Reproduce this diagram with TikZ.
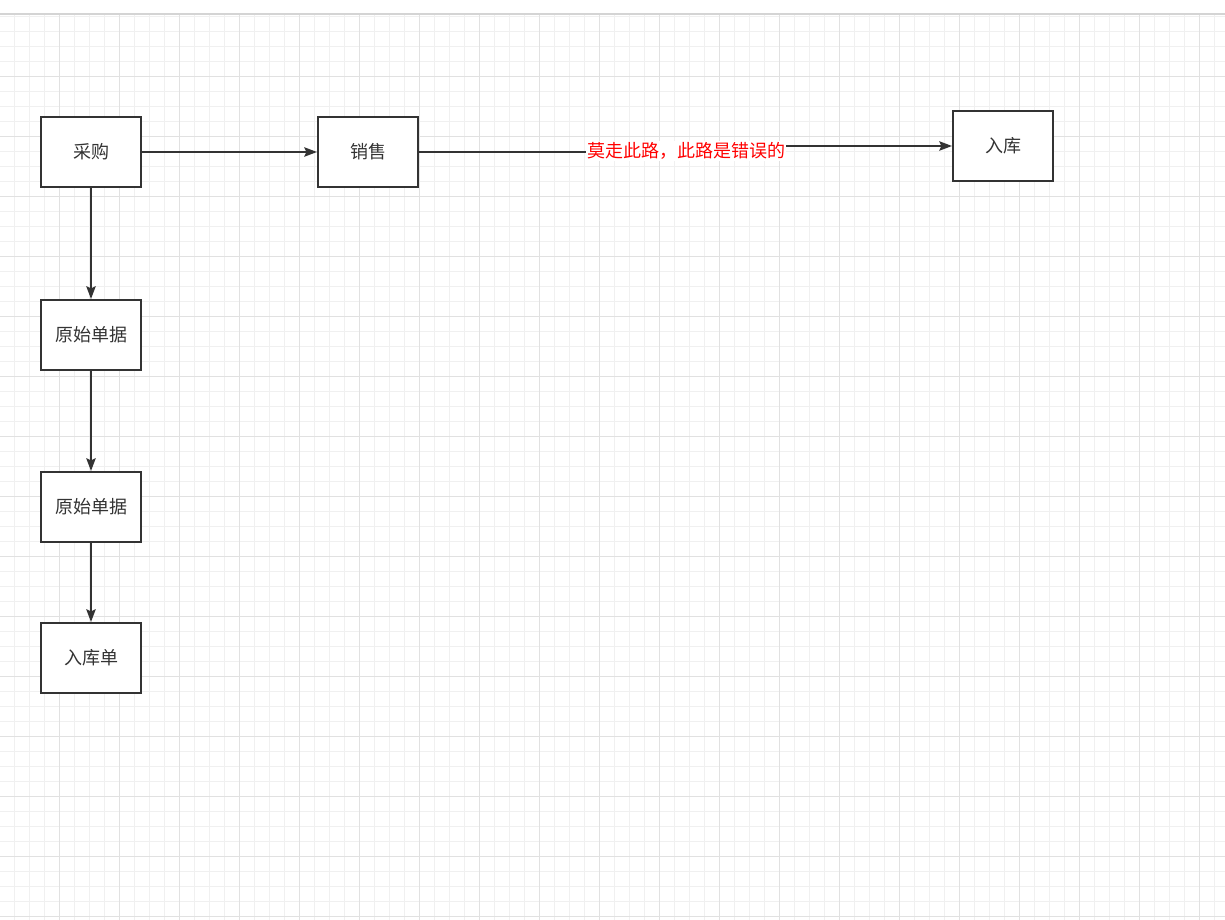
\documentclass[tikz,border=0pt]{standalone}
\usepackage{fontspec}
\newfontfamily\cjk{Noto Sans CJK SC}
\usetikzlibrary{arrows.meta}
\definecolor{gridminor}{HTML}{F0F0F0}
\definecolor{gridmajor}{HTML}{E1E1E1}
\definecolor{ink}{HTML}{333333}
\tikzset{
  box/.style={draw=ink, line width=1.5pt, fill=white, minimum width=75pt, minimum height=52.5pt,
    text=ink, font=\cjk\fontsize{13.5}{16}\selectfont},
  flow/.style={draw=ink, line width=1.5pt, -{Stealth[length=9.5pt, width=7pt, inset=1.5pt]}},
}

\begin{document}
\begin{tikzpicture}[x=0.75pt, y=-0.75pt]
  \useasboundingbox (0,0) rectangle (1225,920);
  \fill[white] (0,0) rectangle (1225,920);
  % background grid
  \foreach \x in {14.5,29.5,...,1225} \draw[gridminor, line width=0.75pt] (\x,15) -- (\x,920);
  \foreach \y in {16.5,31.5,...,920} \draw[gridminor, line width=0.75pt] (0,\y) -- (1225,\y);
  \foreach \x in {59.5,119.5,...,1225} \draw[gridmajor, line width=0.75pt] (\x,15) -- (\x,920);
  \foreach \y in {76.5,136.5,...,920} \draw[gridmajor, line width=0.75pt] (0,\y) -- (1225,\y);
  \draw[color=black!17, line width=1.5pt] (0,14) -- (1225,14);

  % boxes
  \node[box] (cg)  at (91,152)   {采购};
  \node[box] (xs)  at (368,152)  {销售};
  \node[box] (rk)  at (1003,146) {入库};
  \node[box] (yd1) at (91,335)   {原始单据};
  \node[box] (yd2) at (91,507)   {原始单据};
  \node[box] (rkd) at (91,658)   {入库单};

  % connectors
  \draw[flow] (cg.east) -- (xs.west);
  \draw[flow] (cg.south) -- (yd1.north);
  \draw[flow] (yd1.south) -- (yd2.north);
  \draw[flow] (yd2.south) -- (rkd.north);
  \coordinate (bend) at (686,149);
  \draw[flow] (xs.east) -| (bend) |- (rk.west);
  \node[fill=white, inner sep=1pt, text=red, font=\cjk\fontsize{13.5}{16}\selectfont] (warn) at (686,151) {莫走此路，此路是错误的};
\end{tikzpicture}
\end{document}
